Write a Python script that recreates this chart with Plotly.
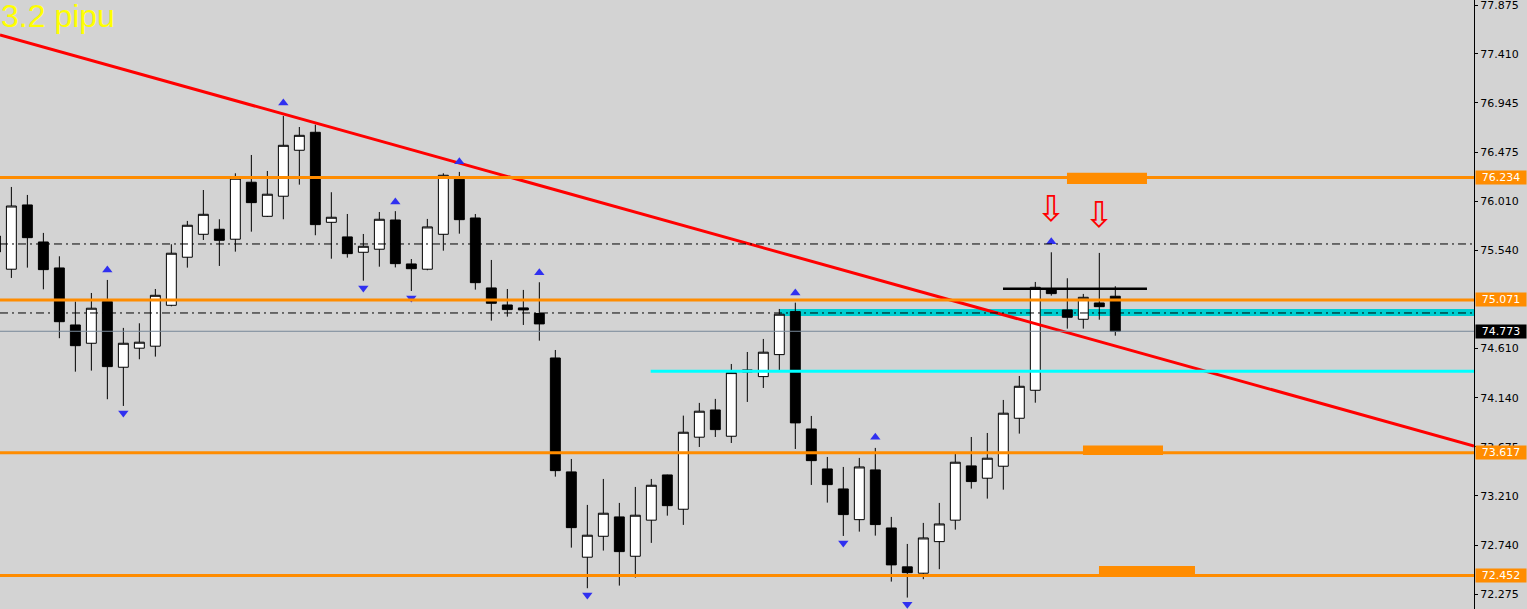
import plotly.graph_objects as go

# ---------------- data ----------------
bar_index = list(range(71))
bar_open = [75.679, 75.363, 75.974, 75.622, 75.375, 74.833, 74.659, 75.055, 74.431, 74.612,
            74.631, 75.020, 75.477, 75.695, 75.743, 75.648, 76.190, 75.866, 76.057, 76.494,
            76.665, 75.809, 75.670, 75.524, 75.553, 75.831, 75.413, 75.363, 75.695, 76.218,
            75.850, 75.185, 75.023, 74.995, 74.942, 74.519, 73.436, 72.625, 72.824, 73.008,
            72.634, 72.977, 73.407, 73.081, 73.766, 74.025, 73.775, 74.386, 74.342, 74.551,
            74.960, 73.844, 73.464, 73.274, 72.982, 73.455, 72.903, 72.533, 72.473, 72.773,
            72.977, 73.493, 73.376, 73.490, 73.946, 74.212, 75.178, 74.976, 74.887, 75.042,
            75.106]
bar_high = [75.736, 76.145, 76.069, 75.708, 75.486, 75.055, 75.137, 75.261, 74.805, 74.849,
            75.175, 75.600, 75.822, 76.116, 75.838, 76.275, 76.449, 76.297, 76.820, 76.715,
            76.737, 76.095, 75.888, 75.698, 75.907, 75.915, 75.460, 75.841, 76.275, 76.288,
            75.888, 75.451, 75.175, 75.166, 75.239, 74.595, 73.559, 73.122, 73.369, 73.141,
            73.293, 73.369, 73.410, 73.971, 74.092, 74.130, 74.462, 74.576, 74.700, 74.985,
            75.045, 73.968, 73.578, 73.483, 73.569, 73.664, 73.008, 72.751, 72.951, 73.141,
            73.607, 73.768, 73.806, 74.120, 74.348, 75.242, 75.524, 75.277, 75.128, 75.518,
            75.201]
bar_low = [75.470, 75.280, 75.378, 75.172, 74.707, 74.389, 74.399, 74.127, 74.063, 74.507,
           74.532, 75.010, 75.378, 75.641, 75.394, 75.530, 75.720, 75.860, 75.838, 76.167,
           75.686, 75.463, 75.473, 75.254, 75.387, 75.380, 75.156, 75.353, 75.539, 75.701,
           75.169, 74.874, 74.912, 74.833, 74.684, 73.391, 72.716, 72.330, 72.688, 72.355,
           72.431, 72.761, 73.020, 72.932, 73.673, 73.768, 73.711, 74.101, 74.234, 74.405,
           73.654, 73.312, 73.144, 72.827, 72.868, 72.830, 72.393, 72.241, 72.416, 72.511,
           72.887, 73.277, 73.182, 73.267, 73.800, 74.094, 75.112, 74.798, 74.798, 74.883,
           74.731]
bar_close = [75.527, 75.964, 75.663, 75.359, 74.864, 74.636, 74.992, 74.437, 74.659, 74.669,
             75.115, 75.515, 75.781, 75.885, 75.638, 76.228, 75.996, 76.076, 76.541, 76.636,
             75.787, 75.857, 75.511, 75.581, 75.838, 75.416, 75.368, 75.765, 76.256, 75.834,
             75.235, 75.039, 74.979, 74.976, 74.843, 73.448, 72.906, 72.834, 73.043, 72.678,
             73.024, 73.309, 73.115, 73.813, 74.013, 73.838, 74.380, 74.405, 74.574, 74.935,
             73.902, 73.543, 73.315, 73.030, 73.483, 72.935, 72.552, 72.478, 72.808, 72.941,
             73.528, 73.344, 73.566, 73.994, 74.250, 75.191, 75.131, 74.906, 75.096, 75.007,
             74.773]

axis_ticks = [77.875, 77.410, 76.945, 76.475, 76.010, 75.540, 74.610, 74.140,
              73.675, 73.210, 72.740, 72.275]

support_levels = [76.234, 75.071, 73.617, 72.452]
dashdot_levels = [75.603, 74.947]
last_price = 74.773

trend_x = [0.29, 92.42]
trend_y = [77.590, 73.682]

frac_up_x = [7, 18, 25, 29, 34, 50, 55, 66]
frac_up_y = [75.356, 76.943, 76.002, 76.385, 75.330, 75.137, 73.765, 75.625]
frac_dn_x = [8, 23, 26, 37, 53, 57]
frac_dn_y = [73.997, 75.185, 75.090, 72.266, 72.761, 72.178]

signal_x = [66, 69]
signal_y = [75.945, 75.883]

zone_x0 = [66.98, 67.98, 68.98]
zone_x1 = [71.98, 72.98, 74.98]
zone_lo = [76.173, 73.597, 72.440]
zone_hi = [76.281, 73.686, 72.542]

band_x0 = 49.04
band_lo, band_hi = 74.919, 74.985
cyan_x0 = 40.96
cyan_level = 74.393
range_x0, range_x1 = 62.98, 71.98
range_level = 75.178

x_range = [0.29, 92.42]
y_range = [72.1325, 77.9225]

title_text = "3.2 pipu"

ORANGE = "#FF8C00"
BG = "#D3D3D3"

# ---------------- figure ----------------
fig = go.Figure()

fig.add_trace(go.Candlestick(
    x=bar_index, open=bar_open, high=bar_high, low=bar_low, close=bar_close,
    increasing=dict(line=dict(color="black", width=1), fillcolor="white"),
    decreasing=dict(line=dict(color="black", width=1), fillcolor="black"),
    whiskerwidth=0, hoverinfo="skip", showlegend=False,
))

fig.add_trace(go.Scatter(
    x=trend_x, y=trend_y, mode="lines",
    line=dict(color="#FF0000", width=3), hoverinfo="skip", showlegend=False,
))

fig.add_trace(go.Scatter(
    x=frac_up_x, y=frac_up_y, mode="markers",
    marker=dict(symbol="triangle-up", size=9, color="#3030F0", line=dict(width=0)),
    hoverinfo="skip", showlegend=False,
))
fig.add_trace(go.Scatter(
    x=frac_dn_x, y=frac_dn_y, mode="markers",
    marker=dict(symbol="triangle-down", size=9, color="#3030F0", line=dict(width=0)),
    hoverinfo="skip", showlegend=False,
))

# background rectangles
fig.add_shape(type="rect", xref="x", yref="y", x0=band_x0, x1=x_range[1],
              y0=band_lo, y1=band_hi, fillcolor="#00CED1", line=dict(width=0), layer="below")
for x0, x1, lo, hi in zip(zone_x0, zone_x1, zone_lo, zone_hi):
    fig.add_shape(type="rect", xref="x", yref="y", x0=x0, x1=x1, y0=lo, y1=hi,
                  fillcolor=ORANGE, line=dict(width=0), layer="below")

# horizontal lines
for lvl in dashdot_levels:
    fig.add_shape(type="line", xref="paper", yref="y", x0=0, x1=1, y0=lvl, y1=lvl,
                  line=dict(color="black", width=1, dash="8px,4px,2px,4px"), layer="above")
fig.add_shape(type="line", xref="paper", yref="y", x0=0, x1=1, y0=last_price, y1=last_price,
              line=dict(color="#778899", width=1), layer="above")
for lvl in support_levels:
    fig.add_shape(type="line", xref="paper", yref="y", x0=0, x1=1, y0=lvl, y1=lvl,
                  line=dict(color=ORANGE, width=3), layer="above")
fig.add_shape(type="line", xref="x", yref="y", x0=cyan_x0, x1=x_range[1],
              y0=cyan_level, y1=cyan_level, line=dict(color="#00FFFF", width=3), layer="above")
fig.add_shape(type="line", xref="x", yref="y", x0=range_x0, x1=range_x1,
              y0=range_level, y1=range_level, line=dict(color="black", width=2.5), layer="above")

# red signal arrows
for sx, sy in zip(signal_x, signal_y):
    fig.add_annotation(x=sx, y=sy, xref="x", yref="y", text="⇩", showarrow=False,
                       font=dict(family="DejaVu Sans", size=36, color="#FF0000"))

# price labels on axis
for lvl in support_levels:
    fig.add_annotation(xref="paper", x=1, xanchor="left", yref="y", y=lvl,
                       text=f"{lvl:.3f}", showarrow=False, bgcolor=ORANGE,
                       font=dict(family="DejaVu Sans", size=11, color="white"),
                       width=50, height=13, borderpad=0, xshift=1)
fig.add_annotation(xref="paper", x=1, xanchor="left", yref="y", y=last_price,
                   text=f"{last_price:.3f}", showarrow=False, bgcolor="black",
                   font=dict(family="DejaVu Sans", size=11, color="white"),
                   width=50, height=13, borderpad=0, xshift=1)

# title text
fig.add_annotation(xref="paper", yref="paper", x=0, y=1, xanchor="left", yanchor="top",
                   text=title_text, showarrow=False, xshift=-1, yshift=4,
                   font=dict(family="Liberation Sans", size=32, color="#FFFF00"))

fig.update_layout(
    width=1527, height=609,
    margin=dict(l=0, r=53, t=0, b=0),
    paper_bgcolor=BG, plot_bgcolor=BG,
    showlegend=False,
    boxgap=0.38, boxgroupgap=0,
    xaxis=dict(range=x_range, visible=False, rangeslider=dict(visible=False)),
    yaxis=dict(range=y_range, side="right", showgrid=False, zeroline=False,
               showline=True, linecolor="black", linewidth=1,
               ticks="outside", ticklen=3, tickcolor="black", tickwidth=1,
               tickvals=axis_ticks, tickformat=".3f", ticklabeloverflow="allow",
               tickfont=dict(family="DejaVu Sans", size=11, color="black")),
)

fig.write_html("out.html", config={"displayModeBar": False},
               post_script="document.body.style.margin='0';document.body.style.overflow='hidden';")
